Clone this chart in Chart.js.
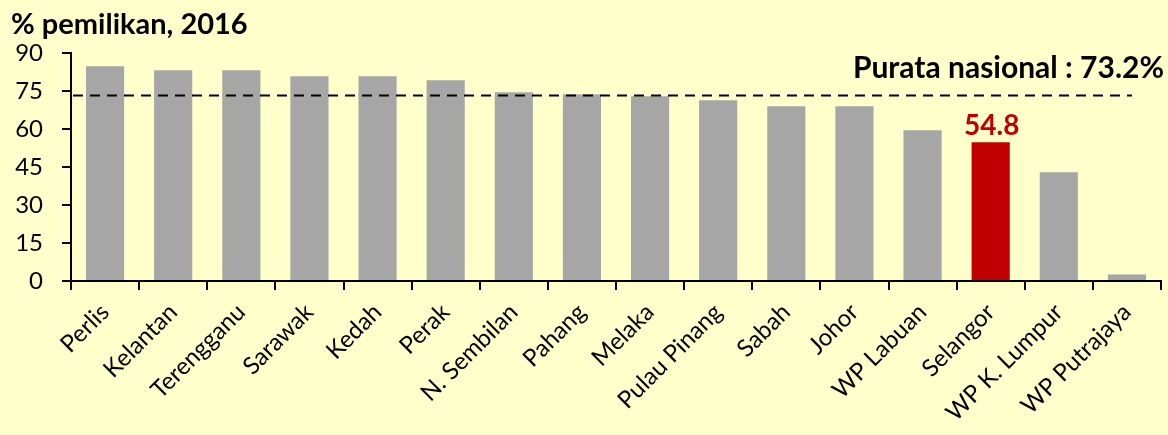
<!DOCTYPE html>
<html lang="ms">
<head>
  <meta charset="UTF-8">
  <title>% pemilikan, 2016</title>
  <script src="https://cdn.jsdelivr.net/npm/chart.js"></script>
  <style>
    html, body { margin: 0; padding: 0; background: #FFFFCC; }
    #wrap { width: 1168px; height: 435px; position: relative; }
  </style>
</head>
<body>
  <div id="wrap"><canvas id="chart" width="1168" height="435"></canvas></div>

  <script>
    // data
    const categories = ['Perlis', 'Kelantan', 'Terengganu', 'Sarawak', 'Kedah', 'Perak', 'N. Sembilan', 'Pahang',
      'Melaka', 'Pulau Pinang', 'Sabah', 'Johor', 'WP Labuan', 'Selangor', 'WP K. Lumpur', 'WP Putrajaya'];
    const ownership = [84.8, 83.2, 83.2, 80.8, 80.8, 79.2, 74.5, 73.7, 72.9, 71.3, 69.0, 69.0, 59.5, 54.8, 42.9, 2.6];
    const yTicks = [0, 15, 30, 45, 60, 75, 90];
    const nationalAvg = 73.2;
    const highlighted = 'Selangor';

    const FONT = 'Lato, "Open Sans", sans-serif';
    const barColors = categories.map(c => c === highlighted ? '#C00000' : '#A6A6A6');

    // title, average line and labels
    const overlay = {
      id: 'overlay',
      afterDatasetsDraw(chart) {
        const ctx = chart.ctx;
        const x = chart.scales.x, y = chart.scales.y;
        ctx.save();

        // national average dashed line
        const yAvg = y.getPixelForValue(nationalAvg);
        ctx.strokeStyle = '#000';
        ctx.lineWidth = 2;
        ctx.setLineDash([10, 7]);
        ctx.beginPath();
        ctx.moveTo(chart.chartArea.left + 2, yAvg);
        ctx.lineTo(x.getPixelForValue(categories.length - 1) + 5, yAvg);
        ctx.stroke();
        ctx.setLineDash([]);

        ctx.fillStyle = '#000';
        ctx.font = 'bold 30px ' + FONT;
        ctx.textAlign = 'right';
        ctx.textBaseline = 'alphabetic';
        ctx.fillText('Purata nasional : ' + nationalAvg.toFixed(1) + '%', 1164, 78);

        // highlighted value
        const idx = categories.indexOf(highlighted);
        const bar = chart.getDatasetMeta(0).data[idx];
        ctx.fillStyle = '#C00000';
        ctx.font = 'bold 28px ' + FONT;
        ctx.textAlign = 'center';
        ctx.fillText(ownership[idx].toFixed(1), bar.x + 1, bar.y - 7);

        // title
        ctx.fillStyle = '#000';
        ctx.font = 'bold 29px ' + FONT;
        ctx.textAlign = 'left';
        ctx.fillText('% pemilikan, 2016', 11, 34);

        ctx.restore();
      }
    };

    new Chart(document.getElementById('chart'), {
      type: 'bar',
      data: {
        labels: categories,
        datasets: [{
          data: ownership,
          backgroundColor: barColors,
          borderWidth: 0,
          categoryPercentage: 1,
          barPercentage: 0.56
        }]
      },
      options: {
        responsive: false,
        animation: false,
        layout: { padding: { top: 53, right: 7, left: 0, bottom: 0 } },
        plugins: { legend: { display: false }, tooltip: { enabled: false } },
        scales: {
          x: {
            afterFit: s => { s.height = 154; },
            border: { color: '#000', width: 2 },
            grid: { display: true, drawOnChartArea: false, drawTicks: true, tickLength: 9, color: '#000', lineWidth: 2 },
            ticks: {
              color: '#000',
              font: { family: FONT, size: 24 },
              minRotation: 45,
              maxRotation: 45,
              padding: 8,
              autoSkip: false
            }
          },
          y: {
            min: 0,
            max: 90,
            afterFit: s => { s.width = 71; },
            afterBuildTicks: s => { s.ticks = yTicks.map(v => ({ value: v })); },
            border: { color: '#000', width: 2 },
            grid: { display: true, drawOnChartArea: false, drawTicks: true, tickLength: 9, color: '#000', lineWidth: 2 },
            ticks: {
              color: '#000',
              font: { family: FONT, size: 24 },
              padding: 19
            }
          }
        }
      },
      plugins: [overlay]
    });
  </script>
</body>
</html>
